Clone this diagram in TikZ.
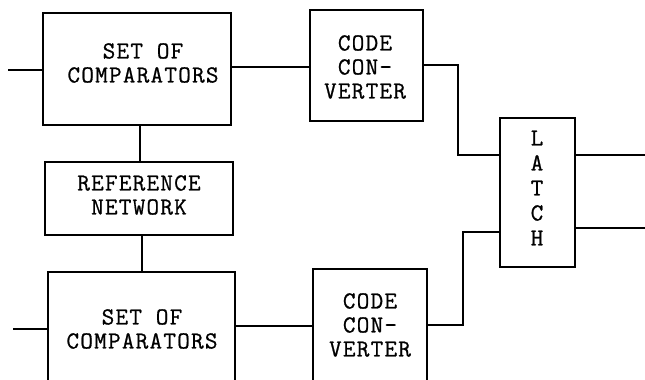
\documentclass[tikz,border=0pt]{standalone}
\usepackage{fontspec}
\newfontfamily\tw{Latin Modern Mono}[FakeBold=0.8,LetterSpace=5]
\begin{document}
\begin{tikzpicture}[x=1pt,y=-1pt,
  wire/.style={line width=1.4pt},
  blk/.style={draw,line width=1.4pt,rectangle,inner sep=0pt},
  lbl/.style={font=\tw\fontsize{24.5}{24}\selectfont,align=center,inner sep=0pt}]
\useasboundingbox (0,0) rectangle (645,380);
\clip (0,0) rectangle (645,380);
% boxes
\node[blk,minimum width=188pt,minimum height=112pt] (comp1) at (137,69) {};
\node[blk,minimum width=113pt,minimum height=111pt] (cc1) at (366.5,65.5) {};
\node[blk,minimum width=75pt,minimum height=149pt] (latch) at (537.5,192.5) {};
\node[blk,minimum width=188pt,minimum height=73pt] (ref) at (139,198.5) {};
\node[blk,minimum width=187pt,minimum height=140pt] (comp2) at (141.5,342) {};
\node[blk,minimum width=114pt,minimum height=142pt] (cc2) at (370,340) {};
% texts
\node[lbl] (t1) at (143,63) {SET OF\\COMPARATORS};
\node[lbl] (t2) at (365,67) {CODE\\CON-\\VERTER};
\node[lbl] (t3) at (139,195) {REFERENCE\\NETWORK};
\node[lbl] (t4) at (142,329) {SET OF\\COMPARATORS};
\node[lbl] (t5) at (370,325) {CODE\\CON-\\VERTER};
\node[lbl,font=\tw\fontsize{24.5}{25}\selectfont] (t6) at (537,188) {L\\A\\T\\C\\H};
% connectors
\coordinate (in1) at (8,70);
\coordinate (in2) at (13,329);
\coordinate (o1) at (645,155);
\coordinate (o2) at (645,228);
\coordinate (j1) at (458,65);
\coordinate (j2) at (458,155);
\coordinate (j3) at (463,325);
\coordinate (j4) at (463,232);
\draw[wire] (in1) -- (in1 -| comp1.west);
\draw[wire] (in2) -- (in2 -| comp2.west);
\draw[wire] (comp1.east |- 0,67) -- (cc1.west |- 0,67);
\draw[wire] (comp2.east |- 0,326) -- (cc2.west |- 0,326);
\draw[wire] (cc1.east |- j1) -- (j1) -- (j2) -- (latch.west |- j2);
\draw[wire] (cc2.east |- j3) -- (j3) -- (j4) -- (latch.west |- j4);
\draw[wire] (latch.east |- o1) -- (o1);
\draw[wire] (latch.east |- o2) -- (o2);
\draw[wire] (comp1.south -| 140,0) -- (ref.north -| 140,0);
\draw[wire] (ref.south -| 142,0) -- (comp2.north -| 142,0);
\end{tikzpicture}
\end{document}
